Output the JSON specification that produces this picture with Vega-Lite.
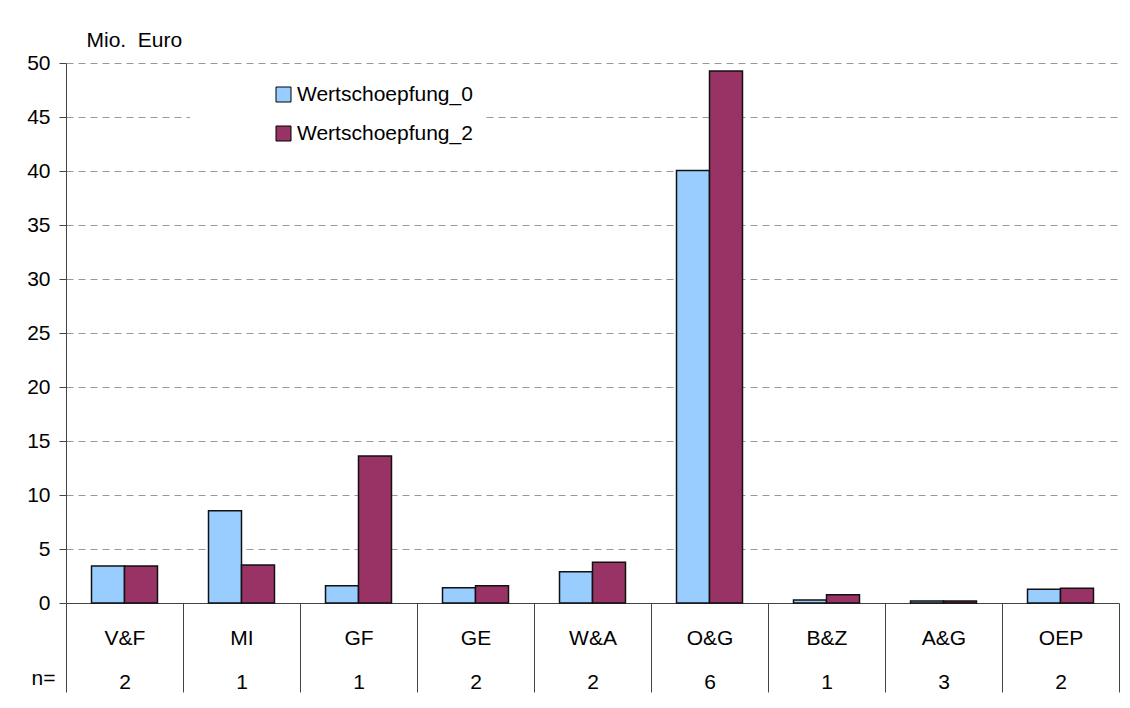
{
  "$schema": "https://vega.github.io/schema/vega-lite/v6.json",
  "width": 1053,
  "height": 540,
  "autosize": {"type": "none"},
  "padding": {"left": 66, "top": 63, "right": 11, "bottom": 105},
  "background": "white",
  "config": {"font": "Liberation Sans", "view": {"stroke": null}},
  "data": {
    "values": [
      {"Bereich": "V&F", "n": 2, "Reihe": "Wertschoepfung_0", "Wert": 3.43},
      {"Bereich": "V&F", "n": 2, "Reihe": "Wertschoepfung_2", "Wert": 3.43},
      {"Bereich": "MI", "n": 1, "Reihe": "Wertschoepfung_0", "Wert": 8.55},
      {"Bereich": "MI", "n": 1, "Reihe": "Wertschoepfung_2", "Wert": 3.52},
      {"Bereich": "GF", "n": 1, "Reihe": "Wertschoepfung_0", "Wert": 1.6},
      {"Bereich": "GF", "n": 1, "Reihe": "Wertschoepfung_2", "Wert": 13.6},
      {"Bereich": "GE", "n": 2, "Reihe": "Wertschoepfung_0", "Wert": 1.42},
      {"Bereich": "GE", "n": 2, "Reihe": "Wertschoepfung_2", "Wert": 1.6},
      {"Bereich": "W&A", "n": 2, "Reihe": "Wertschoepfung_0", "Wert": 2.9},
      {"Bereich": "W&A", "n": 2, "Reihe": "Wertschoepfung_2", "Wert": 3.77},
      {"Bereich": "O&G", "n": 6, "Reihe": "Wertschoepfung_0", "Wert": 40.05},
      {"Bereich": "O&G", "n": 6, "Reihe": "Wertschoepfung_2", "Wert": 49.26},
      {"Bereich": "B&Z", "n": 1, "Reihe": "Wertschoepfung_0", "Wert": 0.28},
      {"Bereich": "B&Z", "n": 1, "Reihe": "Wertschoepfung_2", "Wert": 0.77},
      {"Bereich": "A&G", "n": 3, "Reihe": "Wertschoepfung_0", "Wert": 0.18},
      {"Bereich": "A&G", "n": 3, "Reihe": "Wertschoepfung_2", "Wert": 0.18},
      {"Bereich": "OEP", "n": 2, "Reihe": "Wertschoepfung_0", "Wert": 1.27},
      {"Bereich": "OEP", "n": 2, "Reihe": "Wertschoepfung_2", "Wert": 1.36}
    ]
  },
  "transform": [{"calculate": "datum.Bereich + '|' + datum.n", "as": "Spalte"}],
  "mark": {"type": "bar", "stroke": "#111", "strokeWidth": 1.5},
  "encoding": {
    "x": {
      "field": "Spalte",
      "type": "nominal",
      "sort": null,
      "scale": {"paddingInner": 0, "paddingOuter": 0},
      "axis": {
        "title": "n=",
        "titleX": -23,
        "titleY": 81,
        "titleAlign": "center",
        "titleBaseline": "alphabetic",
        "titleFontSize": 21,
        "titleFontWeight": "normal",
        "titleColor": "black",
        "labelExpr": "isValid(datum.value) ? split(datum.value, '|') : ''",
        "labelAngle": 0,
        "labelFontSize": 21,
        "labelColor": "black",
        "labelBaseline": "alphabetic",
        "labelLineHeight": 44,
        "labelPadding": -48,
        "tickBand": "extent",
        "tickSize": 89,
        "tickColor": "#444",
        "domainColor": "#444",
        "grid": false
      }
    },
    "xOffset": {
      "field": "Reihe",
      "type": "nominal",
      "scale": {"paddingInner": 0, "paddingOuter": 0.773}
    },
    "y": {
      "field": "Wert",
      "type": "quantitative",
      "scale": {"domain": [0, 50]},
      "axis": {
        "title": "Mio. \u00a0Euro",
        "titleAngle": 0,
        "titleX": 20,
        "titleY": -23,
        "titleAlign": "left",
        "titleBaseline": "middle",
        "titleFontSize": 21,
        "titleFontWeight": "normal",
        "titleColor": "black",
        "values": [0, 5, 10, 15, 20, 25, 30, 35, 40, 45, 50],
        "labelFontSize": 21,
        "labelColor": "black",
        "labelPadding": 9,
        "tickSize": 7,
        "tickColor": "#444",
        "domainColor": "#444",
        "grid": true,
        "gridColor": "#999",
        "gridDash": [7, 5],
        "gridWidth": 1
      }
    },
    "color": {
      "field": "Reihe",
      "type": "nominal",
      "scale": {"domain": ["Wertschoepfung_0", "Wertschoepfung_2"], "range": ["#99CCFF", "#993366"]},
      "legend": {
        "title": null,
        "orient": "none",
        "legendX": 124,
        "legendY": 9,
        "padding": 12,
        "fillColor": "white",
        "symbolType": "square",
        "symbolSize": 225,
        "symbolOffset": 71,
        "symbolStrokeColor": "black",
        "symbolStrokeWidth": 1,
        "labelFontSize": 21,
        "labelColor": "black",
        "labelOffset": 3,
        "labelLimit": 0,
        "rowPadding": 17
      }
    }
  }
}
